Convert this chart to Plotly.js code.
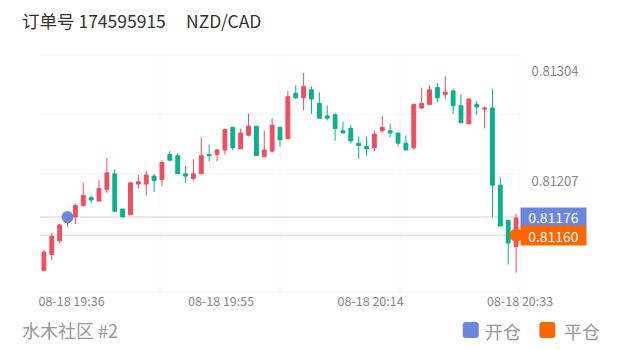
<!DOCTYPE html>
<html>
<head>
<meta charset="utf-8">
<script src="https://cdn.plot.ly/plotly-3.0.1.min.js"></script>
<style>
  html, body { margin: 0; padding: 0; background: #ffffff; }
  #chart { width: 620px; height: 350px; }
</style>
</head>
<body>
<div id="chart"></div>
<script>
// ---- data ----
const times = [
  '08-18 19:33','08-18 19:34','08-18 19:35','08-18 19:36','08-18 19:37','08-18 19:38','08-18 19:39',
  '08-18 19:40','08-18 19:41','08-18 19:42','08-18 19:43','08-18 19:44','08-18 19:45','08-18 19:46',
  '08-18 19:47','08-18 19:48','08-18 19:49','08-18 19:50','08-18 19:51','08-18 19:52','08-18 19:53',
  '08-18 19:54','08-18 19:55','08-18 19:56','08-18 19:57','08-18 19:58','08-18 19:59','08-18 20:00',
  '08-18 20:01','08-18 20:02','08-18 20:03','08-18 20:04','08-18 20:05','08-18 20:06','08-18 20:07',
  '08-18 20:08','08-18 20:09','08-18 20:10','08-18 20:11','08-18 20:12','08-18 20:13','08-18 20:14',
  '08-18 20:15','08-18 20:16','08-18 20:17','08-18 20:18','08-18 20:19','08-18 20:20','08-18 20:21',
  '08-18 20:22','08-18 20:23','08-18 20:24','08-18 20:25','08-18 20:26','08-18 20:27','08-18 20:28',
  '08-18 20:29','08-18 20:30','08-18 20:31','08-18 20:32','08-18 20:33'
];
const openPrices = [
  0.81129,0.81143,0.81155,0.81171,0.81176,0.81186,0.81193,0.81190,0.81200,0.81214,
  0.81183,0.81178,0.81205,0.81205,0.81212,0.81209,0.81231,0.81230,0.81214,0.81210,
  0.81214,0.81231,0.81231,0.81235,0.81255,0.81236,0.81248,0.81256,0.81229,0.81234,
  0.81255,0.81245,0.81285,0.81281,0.81288,0.81276,0.81265,0.81266,0.81252,0.81254,
  0.81241,0.81238,0.81237,0.81252,0.81252,0.81250,0.81241,0.81237,0.81272,0.81275,
  0.81290,0.81284,0.81287,0.81274,0.81258,0.81275,0.81271,0.81272,0.81204,0.81173,
  0.81150
];
const highPrices = [
  0.81147,0.81162,0.81170,0.81179,0.81188,0.81206,0.81195,0.81209,0.81228,0.81218,
  0.81183,0.81207,0.81213,0.81216,0.81214,0.81226,0.81234,0.81232,0.81221,0.81227,
  0.81246,0.81240,0.81236,0.81254,0.81255,0.81254,0.81267,0.81256,0.81252,0.81263,
  0.81255,0.81287,0.81292,0.81303,0.81291,0.81286,0.81274,0.81268,0.81260,0.81257,
  0.81247,0.81247,0.81252,0.81265,0.81258,0.81250,0.81248,0.81276,0.81290,0.81292,
  0.81294,0.81300,0.81289,0.81284,0.81280,0.81278,0.81273,0.81289,0.81211,0.81173,
  0.81179
];
const lowPrices = [
  0.81129,0.81138,0.81153,0.81167,0.81170,0.81185,0.81188,0.81190,0.81197,0.81180,
  0.81176,0.81178,0.81201,0.81195,0.81198,0.81203,0.81225,0.81214,0.81206,0.81208,
  0.81214,0.81225,0.81225,0.81231,0.81235,0.81236,0.81247,0.81230,0.81229,0.81233,
  0.81238,0.81245,0.81280,0.81270,0.81267,0.81263,0.81261,0.81243,0.81250,0.81241,
  0.81227,0.81230,0.81234,0.81250,0.81246,0.81238,0.81235,0.81235,0.81271,0.81275,
  0.81277,0.81280,0.81267,0.81259,0.81258,0.81266,0.81254,0.81176,0.81168,0.81134,
  0.81127
];
const closePrices = [
  0.81145,0.81159,0.81169,0.81176,0.81186,0.81195,0.81191,0.81201,0.81215,0.81181,
  0.81176,0.81206,0.81207,0.81213,0.81208,0.81224,0.81226,0.81214,0.81212,0.81214,
  0.81230,0.81230,0.81235,0.81253,0.81237,0.81250,0.81256,0.81230,0.81235,0.81257,
  0.81244,0.81282,0.81281,0.81291,0.81280,0.81263,0.81263,0.81254,0.81250,0.81243,
  0.81239,0.81236,0.81249,0.81255,0.81250,0.81241,0.81235,0.81275,0.81276,0.81288,
  0.81281,0.81286,0.81274,0.81259,0.81280,0.81273,0.81272,0.81204,0.81168,0.81153,
  0.81175
];
const xTickLabels = ['08-18 19:36','08-18 19:55','08-18 20:14','08-18 20:33'];
const yTickValues = [0.81304, 0.81207];
const tradeOpenTime = '08-18 19:36';
const tradeOpenPrice = 0.81176;
const tradeCloseTime = '08-18 20:33';
const tradeClosePrice = 0.81160;
const titleOrder = '订单号 174595915';
const titleSymbol = 'NZD/CAD';
const footerText = '水木社区 #2';
const legendNames = ['开仓', '平仓'];

// ---- styles ----
const RED = '#ee4f60';
const GREEN = '#0bb08f';
const BLUE = '#6a87e0';
const ORANGE = '#ff6600';
const FONT = '"Noto Sans CJK SC", "Noto Sans", sans-serif';
const GRID = '#f4f4f4';

const candle = {
  type: 'candlestick',
  x: times,
  open: openPrices,
  high: highPrices,
  low: lowPrices,
  close: closePrices,
  increasing: { line: { color: RED, width: 1 }, fillcolor: RED },
  decreasing: { line: { color: GREEN, width: 1 }, fillcolor: GREEN },
  whiskerwidth: 0,
  hoverinfo: 'skip',
  showlegend: false
};

const openMarker = {
  type: 'scatter', mode: 'markers',
  x: [tradeOpenTime], y: [tradeOpenPrice],
  marker: { color: BLUE, size: 12 },
  hoverinfo: 'skip', showlegend: false, cliponaxis: false
};
const closeMarker = {
  type: 'scatter', mode: 'markers',
  x: [tradeCloseTime], y: [tradeClosePrice],
  marker: { color: ORANGE, size: 13 },
  hoverinfo: 'skip', showlegend: false, cliponaxis: false
};

const shapes = [];
[0.25, 0.5, 0.75, 1].forEach(function (f) {
  shapes.push({ type: 'line', xref: 'paper', yref: 'paper', x0: f, x1: f, y0: 0, y1: 1,
    line: { color: GRID, width: 1 }, layer: 'below' });
});
[0, 0.25, 0.5, 0.75, 1].forEach(function (f) {
  shapes.push({ type: 'line', xref: 'paper', yref: 'paper', x0: 0, x1: 1, y0: f, y1: f,
    line: { color: GRID, width: 1 }, layer: 'below' });
});
[tradeOpenPrice, tradeClosePrice].forEach(function (p) {
  shapes.push({ type: 'line', xref: 'paper', yref: 'y', x0: 0, x1: 1, y0: p, y1: p,
    line: { color: '#e2e2e2', width: 1.5 }, layer: 'below' });
});
const rounded = 'M -5,-8 L 5,-8 Q 8,-8 8,-5 L 8,5 Q 8,8 5,8 L -5,8 Q -8,8 -8,5 L -8,-5 Q -8,-8 -5,-8 Z';
[[0.8973, BLUE], [1.0570, ORANGE]].forEach(function (s) {
  shapes.push({ type: 'path', xref: 'paper', yref: 'paper', xsizemode: 'pixel', ysizemode: 'pixel',
    xanchor: s[0], yanchor: -0.1603, path: rounded, fillcolor: s[1], line: { width: 0 } });
});

const annotations = [
  { text: titleOrder, xref: 'paper', yref: 'paper', x: -0.0417, y: 1.1435, xanchor: 'left', yanchor: 'middle',
    showarrow: false, font: { family: FONT, size: 17.5, color: '#333333' } },
  { text: titleSymbol, xref: 'paper', yref: 'paper', x: 0.2995, y: 1.1435, xanchor: 'left', yanchor: 'middle',
    showarrow: false, font: { family: FONT, size: 17.5, color: '#333333' } },
  { text: footerText, xref: 'paper', yref: 'paper', x: -0.0417, y: -0.1603, xanchor: 'left', yanchor: 'middle',
    showarrow: false, font: { family: FONT, size: 18, color: '#999999' } },
  { text: legendNames[0], xref: 'paper', yref: 'paper', x: 0.923, y: -0.1633, xanchor: 'left', yanchor: 'middle',
    showarrow: false, font: { family: FONT, size: 18, color: '#999999' } },
  { text: legendNames[1], xref: 'paper', yref: 'paper', x: 1.0875, y: -0.1633, xanchor: 'left', yanchor: 'middle',
    showarrow: false, font: { family: FONT, size: 18, color: '#999999' } },
  { text: tradeOpenPrice.toFixed(5), xref: 'paper', yref: 'y', x: 1, y: tradeOpenPrice, xanchor: 'left', yanchor: 'middle',
    showarrow: false, bgcolor: BLUE, width: 63, height: 16, borderpad: 1,
    font: { family: FONT, size: 14, color: '#ffffff' } },
  { text: tradeClosePrice.toFixed(5), xref: 'paper', yref: 'y', x: 1, y: tradeClosePrice, xanchor: 'left', yanchor: 'middle',
    showarrow: false, bgcolor: ORANGE, width: 63, height: 17, borderpad: 1,
    font: { family: FONT, size: 14, color: '#ffffff' } }
];

const layout = {
  width: 620, height: 350,
  margin: { l: 40, r: 100, t: 55, b: 58, pad: 0 },
  paper_bgcolor: '#ffffff', plot_bgcolor: '#ffffff',
  font: { family: FONT, color: '#888888' },
  hovermode: false,
  boxgap: 0.3,
  xaxis: {
    type: 'category', range: [-0.5, times.length - 0.5],
    rangeslider: { visible: false },
    tickmode: 'array', tickvals: xTickLabels, ticktext: xTickLabels,
    showgrid: false, zeroline: false, showline: false, ticks: '',
    tickfont: { family: FONT, size: 12.5, color: '#888888' },
    ticklabelshift: 4, fixedrange: true
  },
  yaxis: {
    side: 'right', range: [0.811099, 0.813187],
    tickmode: 'array', tickvals: yTickValues, ticktext: yTickValues.map(function (v) { return v.toFixed(5); }),
    showgrid: false, zeroline: false, showline: false,
    ticks: 'outside', ticklen: 8, tickcolor: 'rgba(0,0,0,0)',
    tickfont: { family: FONT, size: 13, color: '#888888' }, fixedrange: true
  },
  shapes: shapes,
  annotations: annotations,
  showlegend: false
};

Plotly.newPlot('chart', [candle, openMarker, closeMarker], layout, { displayModeBar: false, staticPlot: true });
</script>
</body>
</html>
